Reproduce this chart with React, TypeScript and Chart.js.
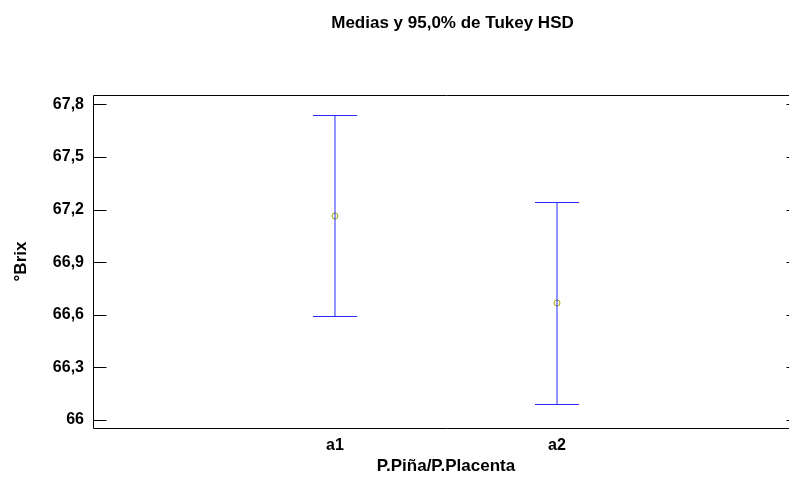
import React, { useEffect, useRef } from 'react';
import { Chart, registerables } from 'chart.js';

Chart.register(...registerables);

const titleText = 'Medias y 95,0% de Tukey HSD';
const xTitle = 'P.Piña/P.Placenta';
const yTitle = '°Brix';
const categories = ['a1', 'a2'];
const means = [67.163, 66.667];
const lowerLimits = [66.59, 66.093];
const upperLimits = [67.737, 67.243];
const yTickValues = [66, 66.3, 66.6, 66.9, 67.2, 67.5, 67.8];
const yTickLabels = ['66', '66,3', '66,6', '66,9', '67,2', '67,5', '67,8'];
const yMin = 65.954;
const yMax = 67.853;
const xMin = -0.09;
const xMax = 3.09;

const FONT_FAMILY = '"Liberation Sans", Arial, Helvetica, sans-serif';
const BAR_COLOR = 'rgb(40,40,255)';
const POINT_COLOR = '#a8a800';
const CAP_HALF = 22;
const TICK_LEN = 13;

const framePlugin = {
  id: 'frameAndBars',
  afterDatasetsDraw(chart: any) {
    const { ctx, chartArea: a, scales } = chart;
    const xs = scales.x;
    const ys = scales.y;
    ctx.save();
    // error bars
    ctx.strokeStyle = BAR_COLOR;
    ctx.lineWidth = 1;
    categories.forEach((_, i) => {
      const px = xs.getPixelForValue(i + 1);
      const pLow = Math.round(ys.getPixelForValue(lowerLimits[i])) + 0.5;
      const pHigh = Math.round(ys.getPixelForValue(upperLimits[i])) + 0.5;
      ctx.beginPath();
      ctx.moveTo(px, pLow);
      ctx.lineTo(px, pHigh);
      ctx.moveTo(px - CAP_HALF, pHigh);
      ctx.lineTo(px + CAP_HALF, pHigh);
      ctx.moveTo(px - CAP_HALF, pLow);
      ctx.lineTo(px + CAP_HALF, pLow);
      ctx.stroke();
    });
    // frame
    ctx.strokeStyle = '#000';
    ctx.lineWidth = 1;
    ctx.beginPath();
    const l = Math.round(a.left) + 0.5;
    const r = Math.round(a.right) + 0.5;
    const t = Math.round(a.top) + 0.5;
    const b = Math.round(a.bottom) + 0.5;
    ctx.moveTo(l, t);
    ctx.lineTo(r, t);
    ctx.lineTo(r, b);
    ctx.lineTo(l, b);
    ctx.closePath();
    yTickValues.forEach((v) => {
      const py = Math.round(ys.getPixelForValue(v)) + 0.5;
      ctx.moveTo(l, py);
      ctx.lineTo(l + TICK_LEN, py);
      ctx.moveTo(r - TICK_LEN, py);
      ctx.lineTo(r, py);
    });
    ctx.stroke();
    ctx.restore();
  },
};

export default function App() {
  const ref = useRef<HTMLCanvasElement | null>(null);

  useEffect(() => {
    if (!ref.current) return;
    const font = { family: FONT_FAMILY, size: 16, weight: 'bold' as const };
    const titleFont = { family: FONT_FAMILY, size: 17, weight: 'bold' as const };
    const chart = new Chart(ref.current, {
      type: 'scatter',
      data: {
        datasets: [
          {
            data: means.map((m, i) => ({ x: i + 1, y: m })),
            pointRadius: 3,
            pointBorderWidth: 1,
            pointBorderColor: POINT_COLOR,
            pointBackgroundColor: 'rgba(0,0,0,0)',
            showLine: false,
          },
        ],
      },
      options: {
        responsive: false,
        animation: false,
        events: [],
        layout: { padding: 0 },
        plugins: {
          legend: { display: false },
          tooltip: { enabled: false },
          title: {
            display: true,
            text: titleText,
            color: '#000',
            font: titleFont,
            padding: { top: 12.8, bottom: 61.8 },
          },
        },
        scales: {
          x: {
            type: 'linear',
            min: xMin,
            max: xMax,
            grid: { display: false, drawTicks: false },
            border: { display: false },
            afterBuildTicks: (s: any) => {
              s.ticks = categories.map((_, i) => ({ value: i + 1 }));
            },
            afterFit: (s: any) => {
              s.height = 49;
            },
            ticks: {
              autoSkip: false,
              maxRotation: 0,
              color: '#000',
              font,
              padding: 8,
              callback: (v: any) => categories[Math.round(Number(v)) - 1] ?? '',
            },
            title: {
              display: true,
              text: xTitle,
              color: '#000',
              font: titleFont,
              padding: { top: 0, bottom: 0 },
            },
          },
          y: {
            type: 'linear',
            position: 'left',
            min: yMin,
            max: yMax,
            grid: { display: false, drawTicks: false },
            border: { display: false },
            afterBuildTicks: (s: any) => {
              s.ticks = yTickValues.map((v) => ({ value: v }));
            },
            afterFit: (s: any) => {
              s.width = 93;
            },
            ticks: {
              autoSkip: false,
              color: '#000',
              font,
              padding: 9,
              callback: (v: any) => {
                const idx = yTickValues.findIndex((t) => Math.abs(t - Number(v)) < 1e-6);
                return idx >= 0 ? yTickLabels[idx] : '';
              },
            },
            title: {
              display: true,
              text: yTitle,
              color: '#000',
              font: titleFont,
              padding: { top: 10.8, bottom: 0 },
            },
          },
          yRight: {
            type: 'linear',
            position: 'right',
            min: yMin,
            max: yMax,
            grid: { display: false, drawTicks: false },
            border: { display: false },
            ticks: { display: false },
            afterFit: (s: any) => {
              s.width = 106;
            },
          },
        },
      },
      plugins: [framePlugin],
    });
    return () => chart.destroy();
  }, []);

  return (
    <div
      style={{
        position: 'fixed',
        left: 0,
        top: 0,
        width: 789,
        height: 477,
        overflow: 'hidden',
        background: '#fff',
      }}
    >
      <canvas ref={ref} width={905} height={477} style={{ display: 'block', width: 905, height: 477 }} />
    </div>
  );
}
